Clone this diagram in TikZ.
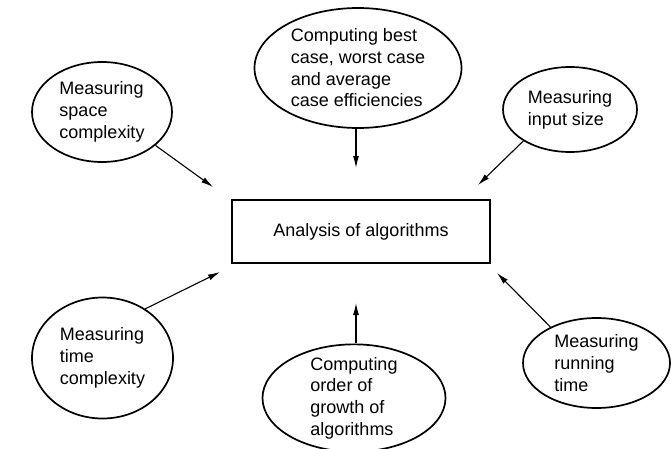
\documentclass[tikz,border=0pt]{standalone}
\usepackage{fontspec}
\setmainfont{Liberation Sans}
\usetikzlibrary{shapes.geometric}
\usetikzlibrary{arrows.meta}

\begin{document}
\begin{tikzpicture}[x=10pt, y=-10pt,
    bubble/.style={draw, ellipse, line width=1.7pt, inner sep=-3pt, align=left,
        font=\fontsize{18}{21.7}\selectfont},
    mainbox/.style={draw, rectangle, line width=2.2pt, minimum width=258pt,
        minimum height=63pt, font=\fontsize{18}{21.7}\selectfont},
    feed/.style={line width=1.1pt, -{Latex[length=12pt,width=6pt]}}]
\useasboundingbox (0, 0) rectangle (67.1, 44.9);

\node [mainbox] (analysis) at (36.1, 23.15) {Analysis of algorithms};

\node [bubble, minimum width=140pt, minimum height=100pt] (space) at (10.2, 11.2)
    {Measuring\\space\\complexity};
\node [bubble, minimum width=207pt, minimum height=120pt] (cases) at (35.8, 6.8)
    {Computing best\\case, worst case\\and average\\case efficiencies};
\node [bubble, minimum width=134pt, minimum height=85pt] (input) at (57.0, 10.95)
    {Measuring\\input size};
\node [bubble, minimum width=141pt, minimum height=121pt] (time) at (10.25, 35.8)
    {Measuring\\time\\complexity};
\node [bubble, minimum width=183pt, minimum height=106pt] (order) at (35.4, 39.8)
    {Computing\\order of\\growth of\\algorithms};
\node [bubble, minimum width=147pt, minimum height=90pt] (running) at (59.65, 36.3)
    {Measuring\\running\\time};

% free ends of the arrows, just short of the box
\coordinate (c1) at (21.3, 18.7);
\coordinate (c2) at (35.6, 16.8);
\coordinate (c3) at (47.8, 18.5);
\coordinate (c4) at (22.0, 27.2);
\coordinate (c5) at (35.6, 30.3);
\coordinate (c6) at (49.7, 27.3);

\draw [feed] (space.-32) -- (c1);
\draw [feed] (cases.south -| c2) -- (c2);
\draw [feed] (input.214) -- (c3);
\draw [feed] (time.49) -- (c4);
\draw [feed] (order.north -| c5) -- (c5);
\draw [feed] (running.142) -- (c6);
\end{tikzpicture}
\end{document}
